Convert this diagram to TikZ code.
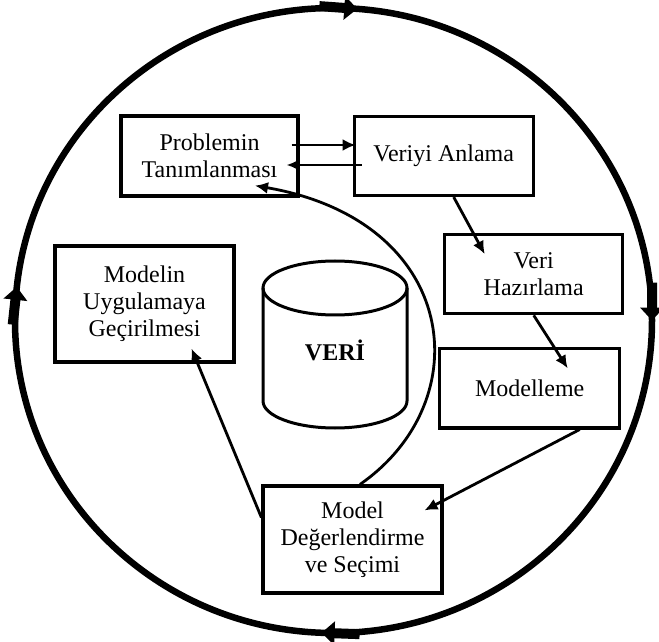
\documentclass[tikz,border=0pt]{standalone}
\usepackage{fontspec}
\setmainfont{Liberation Serif}
\usepackage{tikz}
\usetikzlibrary{arrows.meta,positioning,decorations.markings}
\newcommand{\ringTip}{%
  \fill (-38pt,-5pt) rectangle (-12pt,5pt);
  \fill (0pt,0pt) -- (-13pt,12pt) -- (-13pt,-12pt) -- cycle;}
\tikzset{
  stageBox/.style={
    draw=black,
    line width=3.2pt,
    fill=white,
    align=center,
    font=\fontsize{24}{27}\selectfont,
    inner sep=2pt
  },
  flowArrow/.style={
    -{Latex[length=13pt,width=12pt]},
    line width=2.8pt,
    draw=black
  },
  drumLine/.style={
    line width=3pt,
    draw=black
  },
  cycleRing/.style={
    line width=6.5pt,
    draw=black,
    postaction={decorate},
    decoration={markings,
      mark=at position 0.012 with {\ringTip},
      mark=at position 0.25 with {\ringTip},
      mark=at position 0.506 with {\ringTip},
      mark=at position 0.767 with {\ringTip}}
  }
}

\begin{document}
\begin{tikzpicture}[x=1pt,y=1pt]
  \useasboundingbox (0,0) rectangle (659,641);

  % outer cycle
  \draw[cycleRing] (333.5,633) arc[start angle=90, end angle=-270, x radius=318.5pt, y radius=312.5pt];

  % stages
  \node[stageBox, minimum width=177pt, minimum height=80pt] (prob) at (209.5,485) {Problemin\\Tanımlanması};
  \node[stageBox, minimum width=179pt, minimum height=79pt, right=53pt of prob] (anla) {Veriyi Anlama};
  \node[stageBox, minimum width=178pt, minimum height=79pt, below=36pt of anla, xshift=90pt] (hazir) {Veri\\Hazırlama};
  \node[stageBox, minimum width=180pt, minimum height=79pt, below=32pt of hazir, xshift=-4pt] (model) {Modelleme};
  \node[stageBox, minimum width=179pt, minimum height=107pt] (deger) at (352.5,101.5) {Model\\Değerlendirme\\ve Seçimi};
  \node[stageBox, minimum width=179pt, minimum height=116pt] (uygul) at (144.5,337) {Modelin\\Uygulamaya\\Geçirilmesi};

  % data drum
  \draw[drumLine, fill=white] (263,353) -- (263,240) arc[start angle=180, end angle=360, x radius=72pt, y radius=27pt] -- (407,353);
  \draw[drumLine] (335,353) ellipse[x radius=72pt, y radius=27pt];
  \node[font=\bfseries\fontsize{24}{27}\selectfont] (veri) at (335,291) {VERİ};

  % flow
  \draw[flowArrow] ([xshift=-8pt,yshift=11pt]prob.east) -- ([xshift=3pt,yshift=11pt]anla.west);
  \draw[flowArrow] ([xshift=9pt,yshift=-9pt]anla.west) -- ([xshift=-13pt,yshift=-9pt]prob.east);
  \draw[flowArrow] ([xshift=10pt]anla.south) -- ([xshift=-49pt,yshift=-21pt]hazir.north);
  \draw[flowArrow] (hazir.south) -- ([xshift=38pt,yshift=-21pt]model.north);
  \draw[flowArrow] ([xshift=50pt]model.south) -- ([xshift=72pt,yshift=-26pt]deger.north);
  \draw[flowArrow] ([yshift=22pt]deger.west) -- ([xshift=47pt,yshift=15pt]uygul.south);
  \draw[flowArrow] ([xshift=7.5pt]deger.north) .. controls (480,240) and (460,420) .. ([xshift=45.5pt,yshift=12pt]prob.south);
\end{tikzpicture}
\end{document}
